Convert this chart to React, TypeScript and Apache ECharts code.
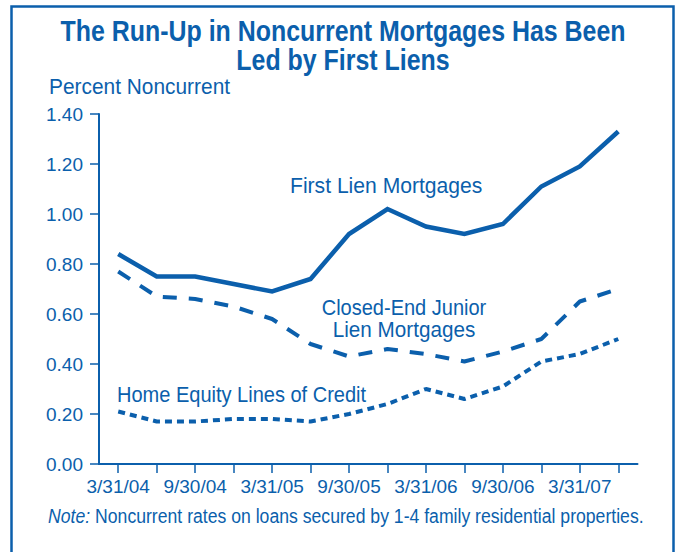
import React, { useEffect, useRef } from "react";
import * as echarts from "echarts";

const categories = [
  "3/31/04", "6/30/04", "9/30/04", "12/31/04",
  "3/31/05", "6/30/05", "9/30/05", "12/31/05",
  "3/31/06", "6/30/06", "9/30/06", "12/31/06",
  "3/31/07", "6/30/07",
];
const firstLien = [0.84, 0.75, 0.75, 0.72, 0.69, 0.74, 0.92, 1.02, 0.95, 0.92, 0.96, 1.11, 1.19, 1.33];
const closedEndJunior = [0.77, 0.67, 0.66, 0.63, 0.58, 0.48, 0.43, 0.46, 0.44, 0.41, 0.45, 0.50, 0.65, 0.70];
const heloc = [0.21, 0.17, 0.17, 0.18, 0.18, 0.17, 0.20, 0.24, 0.30, 0.26, 0.31, 0.41, 0.44, 0.50];

const titleLines = ["The Run-Up in Noncurrent Mortgages Has Been", "Led by First Liens"];
const yAxisTitle = "Percent Noncurrent";
const noteLabel = "Note:";
const noteText = " Noncurrent rates on loans secured by 1-4 family residential properties.";
const seriesLabels = {
  first: "First Lien Mortgages",
  junior: ["Closed-End Junior", "Lien Mortgages"],
  heloc: "Home Equity Lines of Credit",
};

const BLUE = "#0b5fac";
const FONT = "'Liberation Sans', Arial, sans-serif";

export default function App() {
  const ref = useRef<HTMLDivElement>(null);

  useEffect(() => {
    if (!ref.current) return;
    const chart = echarts.init(ref.current, undefined, { renderer: "svg" });
    const txt = (
      x: number,
      y: number,
      text: string,
      size: number,
      scaleX: number,
      align = "left",
      extra: any = {}
    ) => ({
      type: "text",
      x,
      y,
      scaleX,
      scaleY: 1,
      style: {
        text,
        fill: BLUE,
        fontFamily: FONT,
        fontSize: size,
        align,
        verticalAlign: "middle",
        ...extra,
      },
    });
    chart.setOption({
      animation: false,
      backgroundColor: "#ffffff",
      grid: { left: 99, top: 114, width: 538.5, height: 350, containLabel: false },
      xAxis: {
        type: "category",
        data: categories,
        boundaryGap: true,
        axisLine: { lineStyle: { color: BLUE, width: 2 } },
        axisTick: { show: true, alignWithLabel: true, interval: 0, length: 9, lineStyle: { color: BLUE, width: 1.5 } },
        axisLabel: { interval: 1, margin: 13, color: BLUE, fontFamily: FONT, fontSize: 19 },
        splitLine: { show: false },
      },
      yAxis: {
        type: "value",
        min: 0,
        max: 1.4,
        interval: 0.2,
        axisLine: { show: true, lineStyle: { color: BLUE, width: 2 } },
        axisTick: { show: true, length: 9, lineStyle: { color: BLUE, width: 1.5 } },
        axisLabel: {
          margin: 16,
          color: BLUE,
          fontFamily: FONT,
          fontSize: 19,
          formatter: (v: number) => v.toFixed(2),
        },
        splitLine: { show: false },
      },
      series: [
        {
          type: "line",
          name: seriesLabels.first,
          data: firstLien,
          symbol: "none",
          lineStyle: { color: BLUE, width: 4.5, cap: "butt", join: "miter" },
        },
        {
          type: "line",
          name: seriesLabels.junior.join(" "),
          data: closedEndJunior,
          symbol: "none",
          lineStyle: { color: BLUE, width: 4, type: [14, 12], cap: "butt" },
        },
        {
          type: "line",
          name: seriesLabels.heloc,
          data: heloc,
          symbol: "none",
          lineStyle: { color: BLUE, width: 4, type: [7, 5], cap: "butt" },
        },
      ],
      graphic: [
        {
          type: "rect",
          shape: { x: 11.5, y: 6.5, width: 662, height: 570 },
          style: { fill: "none", stroke: BLUE, lineWidth: 2.5 },
          silent: true,
        },
        txt(343, 31.5, titleLines[0], 29, 0.86, "center", { fontWeight: "bold" }),
        txt(343, 60.5, titleLines[1], 29, 0.86, "center", { fontWeight: "bold" }),
        txt(49, 87, yAxisTitle, 22, 0.95),
        txt(290, 185.5, seriesLabels.first, 22, 0.96),
        txt(404, 307.5, seriesLabels.junior[0], 22, 0.91, "center"),
        txt(404, 329.5, seriesLabels.junior[1], 22, 0.94, "center"),
        txt(117, 394, seriesLabels.heloc, 22, 0.91),
        {
          type: "text",
          x: 48,
          y: 515.5,
          scaleX: 0.84,
          scaleY: 1,
          style: {
            rich: {
              i: { fontStyle: "italic", fill: BLUE, fontFamily: FONT, fontSize: 21 },
              n: { fill: BLUE, fontFamily: FONT, fontSize: 21 },
            },
            text: `{i|${noteLabel}}{n|${noteText}}`,
            verticalAlign: "middle",
          },
        },
      ],
    });
    return () => chart.dispose();
  }, []);

  return (
    <div
      ref={ref}
      style={{ position: "fixed", left: 0, top: 0, width: 677, height: 552, background: "#fff" }}
    />
  );
}
